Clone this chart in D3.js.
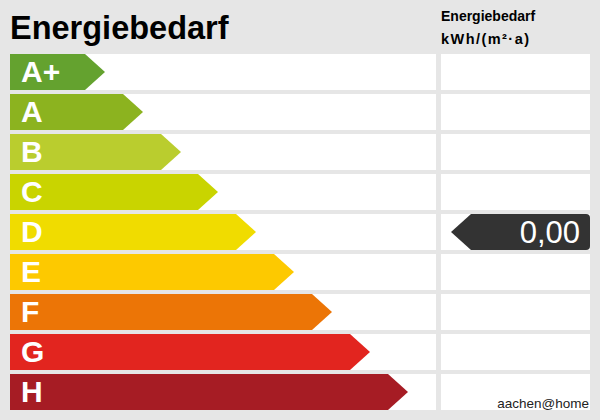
<!DOCTYPE html><html><head><meta charset="utf-8"><script src="https://cdn.jsdelivr.net/npm/d3@7"></script>
<style>body{margin:0;background:#e6e6e6}svg{display:block;font-family:"Liberation Sans",Arial,sans-serif}</style></head><body><svg width="600" height="420"></svg>
<script>
const classes=["A+","A","B","C","D","E","F","G","H"];
const colors=["#64a22f","#8cb31f","#bacd2e","#c9d400","#f0dc00","#fdc900","#ec7506","#e2251f","#a61c24"];
const arrowEnd=[105,143,181,218,256,294,332,370,408];
const markerClass="D", markerValue="0,00";
const svg=d3.select("svg");
svg.append("rect").attr("width",600).attr("height",420).attr("fill","#e6e6e6");
const y=d3.scaleBand().domain(classes).range([52,412]).paddingInner(4/40).paddingOuter(0.05);
const rows=svg.selectAll("g.row").data(classes).join("g").attr("transform",d=>`translate(0,${y(d)})`);
const h=y.bandwidth();
rows.append("rect").attr("x",10).attr("width",426).attr("height",h).attr("fill","#fff");
rows.append("rect").attr("x",441).attr("width",149).attr("height",h).attr("fill","#fff");
rows.append("path").attr("fill",(d,i)=>colors[i]).attr("d",(d,i)=>{const e=arrowEnd[i];return `M10,0H${e-20}L${e},${h/2}L${e-20},${h}H10Z`;});
rows.append("text").attr("x",21).attr("y",h/2+10).attr("fill","#fff").attr("font-weight","bold").attr("font-size",30).text(d=>d);
const my=y(markerClass);
svg.append("path").attr("fill","#333").attr("d",`M451,${my+h/2}L471,${my}H586Q590,${my} 590,${my+4}V${my+h-4}Q590,${my+h} 586,${my+h}H471Z`);
svg.append("text").attr("x",580).attr("y",my+h/2+11).attr("text-anchor","end").attr("fill","#fff").attr("font-size",31).text(markerValue);
svg.append("text").attr("x",10).attr("y",39).attr("font-weight","bold").attr("font-size",32.5).attr("fill","#000").text("Energiebedarf");
svg.append("text").attr("x",441).attr("y",21).attr("font-weight","bold").attr("font-size",14).text("Energiebedarf");
svg.append("text").attr("x",441).attr("y",44).attr("font-weight","bold").attr("font-size",14.5).attr("textLength",88).attr("lengthAdjust","spacing").text("kWh/(m²·a)");
svg.append("text").attr("x",589).attr("y",408).attr("text-anchor","end").attr("font-size",13.5).attr("fill","#222").text("aachen@home");
</script></body></html>
